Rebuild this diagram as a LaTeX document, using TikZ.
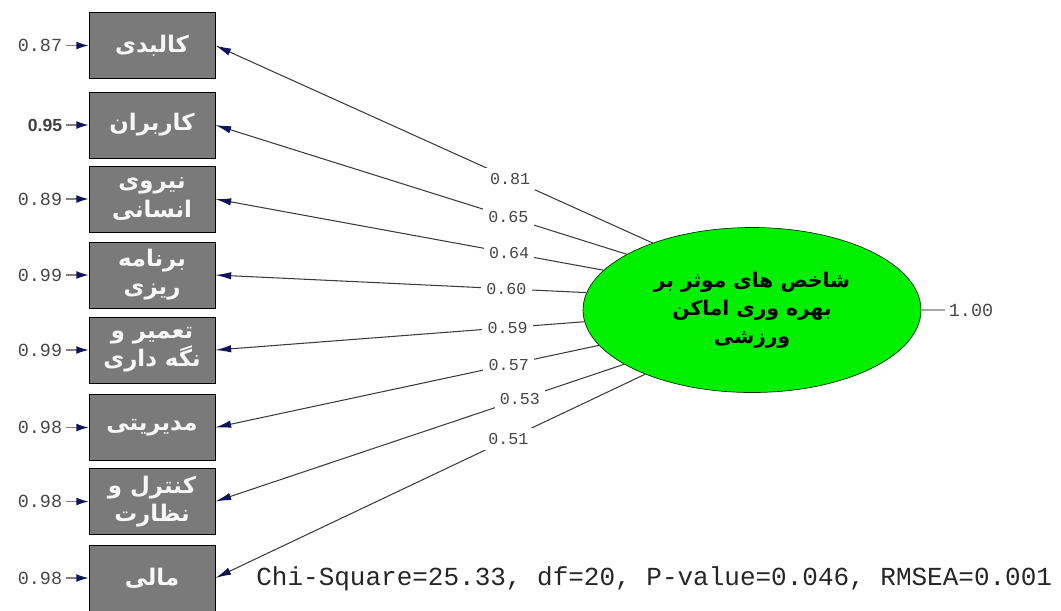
\documentclass[tikz,border=0pt]{standalone}
\usepackage{fontspec}
\usepackage{tikz}
\usetikzlibrary{arrows.meta,shapes.geometric}
\setmonofont{Liberation Mono}
\newfontfamily\arabicfont[Script=Arabic]{DejaVu Sans}
\newfontfamily\plainsans{Liberation Sans}
\TeXXeTstate=1
\definecolor{boxgray}{RGB}{122,122,122}
\definecolor{latgreen}{RGB}{0,240,0}
\definecolor{tipnavy}{RGB}{18,18,88}
\definecolor{linegray}{RGB}{60,60,60}
\definecolor{numgray}{RGB}{70,70,70}

\begin{document}
\begin{tikzpicture}[x=0.02cm,y=-0.02cm,
  obs/.style={draw=black,fill=boxgray,minimum width=2.52cm,minimum height=1.32cm,inner sep=1pt,align=center,text=white!94!gray,font=\arabicfont\bfseries\fontsize{13}{16}\selectfont},
  lat/.style={ellipse,draw=black!80!green,fill=latgreen,minimum width=6.76cm,minimum height=3.3cm,inner sep=0pt,align=center,font=\arabicfont\bfseries\fontsize{11.5}{16}\selectfont},
  errl/.style={anchor=east,inner sep=2pt,text=numgray,font=\ttfamily\fontsize{10.5}{12}\selectfont},
  lbl/.style={fill=white,inner sep=3pt,text=numgray,font=\ttfamily\fontsize{9.5}{11}\selectfont},
  load/.style={draw=linegray,line width=.6pt,-{Latex[color=tipnavy,length=9pt,width=4.2pt]}},
  errarr/.style={draw=gray,line width=.8pt,-{Latex[color=tipnavy,length=7pt,width=4.5pt]}}]
\useasboundingbox (0,0) rectangle (1061,610);
% indicators
\node[obs] (kal) at (152,45.5) {\beginR کالبدی\endR};
\node[obs] (kar) at (152,125) {\beginR کاربران\endR};
\node[obs] (nir) at (152,199) {\beginR نیروی\endR\\\beginR انسانی\endR};
\node[obs] (bar) at (152,275) {\beginR برنامه\endR\\\beginR ریزی\endR};
\node[obs] (tam) at (152,350) {\beginR تعمیر و\endR\\\beginR نگه داری\endR};
\node[obs] (mod) at (152,427.5) {\beginR مدیریتی\endR};
\node[obs] (kon) at (152,501.5) {\beginR کنترل و\endR\\\beginR نظارت\endR};
\node[obs] (mal) at (152,578) {\beginR مالی\endR};
% latent
\node[lat] (shx) at (752,310) {\beginR شاخص های موثر بر\endR\\\beginR بهره وری اماکن\endR\\\beginR ورزشی\endR};
% error variances
\node[errl] (ekal) at (66,45.5) {0.87};
\node[errl,font=\plainsans\bfseries\fontsize{10}{12}\selectfont,text=black!75] (ekar) at (66,125) {0.95};
\node[errl] (enir) at (66,199) {0.89};
\node[errl] (ebar) at (66,275) {0.99};
\node[errl] (etam) at (66,350) {0.99};
\node[errl] (emod) at (66,427.5) {0.98};
\node[errl] (ekon) at (66,501.5) {0.98};
\node[errl] (emal) at (66,578) {0.98};
\draw[errarr] (ekal) -- (kal);
\draw[errarr] (ekar) -- (kar);
\draw[errarr] (enir) -- (nir);
\draw[errarr] (ebar) -- (bar);
\draw[errarr] (etam) -- (tam);
\draw[errarr] (emod) -- (mod);
\draw[errarr] (ekon) -- (kon);
\draw[errarr] (emal) -- (mal);
% loadings
\draw[load] (shx.146) -- node[lbl,pos=.326] {0.81} (kal.east);
\draw[load] (shx.156) -- node[lbl,pos=.288] {0.65} (kar.east);
\draw[load] (shx.165) -- node[lbl,pos=.243] {0.64} (nir.east);
\draw[load] (shx.174.5) -- node[lbl,pos=.216] {0.60} (bar.east);
\draw[load] (shx.184.5) -- node[lbl,pos=.208] {0.59} (tam.east);
\draw[load] (shx.193.5) -- node[lbl,pos=.235] {0.57} (mod.east);
\draw[load] (shx.203.5) -- node[lbl,pos=.255] {0.53} (kon.east);
\draw[load] (shx.211.5) -- node[lbl,pos=.318] {0.51} (mal.east);
% latent variance and fit
\node[anchor=west,inner sep=2pt,text=numgray,font=\ttfamily\fontsize{10.5}{12}\selectfont] (vshx) at (945,310) {1.00};
\draw[draw=gray!70,line width=.6pt] (shx.east) -- (vshx.west);
\node[anchor=west,inner sep=0pt,text=black!85,font=\ttfamily\fontsize{14.8}{16}\selectfont] (fit) at (256,579) {Chi-Square=25.33, df=20, P-value=0.046, RMSEA=0.001};
\end{tikzpicture}
\end{document}
